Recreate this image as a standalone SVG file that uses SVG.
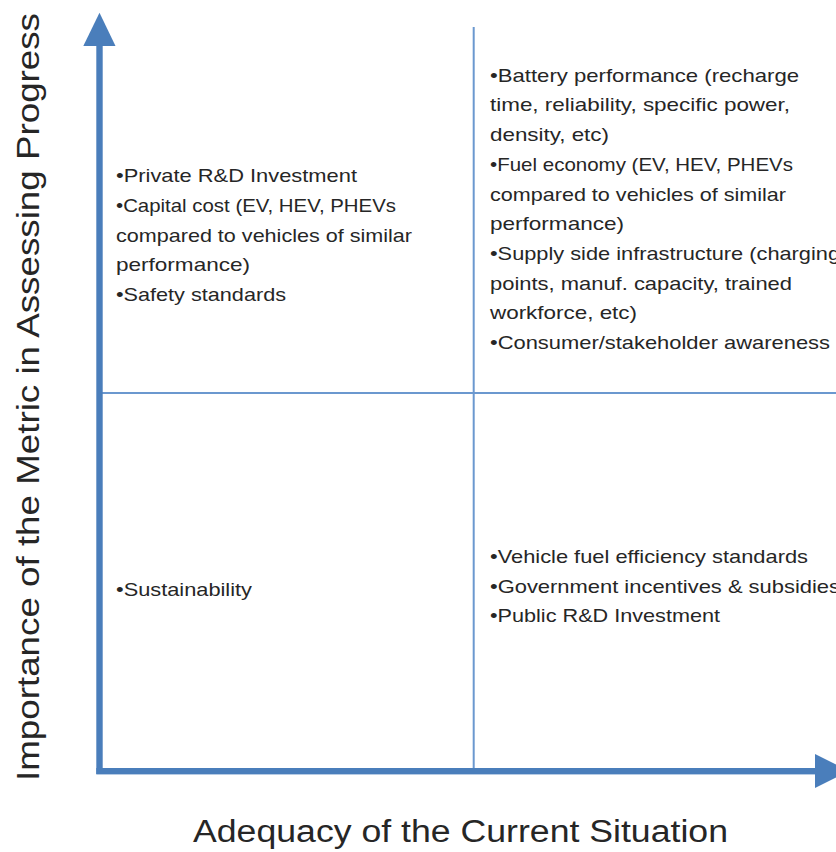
<svg xmlns="http://www.w3.org/2000/svg" width="836" height="852" viewBox="0 0 836 852">
  <style>
    .axis { fill: #4a7ebb; }
    .grid { stroke: #6b98cf; stroke-width: 2; fill: none; }
    .t { font-family: "Liberation Sans", Arial, sans-serif; font-size: 18.6px; fill: #262626; }
    .lbl { font-family: "Liberation Sans", Arial, sans-serif; font-size: 31px; fill: #262626; }
  </style>
  <rect width="836" height="852" fill="#ffffff"/>
  <g id="connectors">
    <line class="grid" x1="473.7" y1="27" x2="473.7" y2="771"/>
    <line class="grid" x1="100" y1="393" x2="836" y2="393"/>
    <rect class="axis" x="96.3" y="44" width="6.4" height="730"/>
    <polygon class="axis" points="99.5,12.7 83.3,46 115.5,46"/>
    <rect class="axis" x="96.3" y="768" width="720" height="6.4"/>
    <polygon class="axis" points="815,754 815,788 849,771"/>
  </g>
  <g id="y-axis-label">
    <text class="lbl" transform="translate(39,781) rotate(-90)" textLength="768" lengthAdjust="spacingAndGlyphs">Importance of the Metric in Assessing Progress</text>
  </g>
  <g id="x-axis-label">
    <text class="lbl" x="193" y="842" textLength="535" lengthAdjust="spacingAndGlyphs">Adequacy of the Current Situation</text>
  </g>
  <g id="quadrant-top-left">
    <text class="t" x="116" y="182" textLength="241" lengthAdjust="spacingAndGlyphs">•Private R&amp;D Investment</text>
    <text class="t" x="116" y="211.8" textLength="280" lengthAdjust="spacingAndGlyphs">•Capital cost (EV, HEV, PHEVs</text>
    <text class="t" x="116" y="241.6" textLength="296" lengthAdjust="spacingAndGlyphs">compared to vehicles of similar</text>
    <text class="t" x="116" y="271.4" textLength="134" lengthAdjust="spacingAndGlyphs">performance)</text>
    <text class="t" x="116" y="301" textLength="170" lengthAdjust="spacingAndGlyphs">•Safety standards</text>
  </g>
  <g id="quadrant-top-right">
    <text class="t" x="490" y="81.7" textLength="309" lengthAdjust="spacingAndGlyphs">•Battery performance (recharge</text>
    <text class="t" x="490" y="111.4" textLength="300" lengthAdjust="spacingAndGlyphs">time, reliability, specific power,</text>
    <text class="t" x="490" y="141.1" textLength="119" lengthAdjust="spacingAndGlyphs">density, etc)</text>
    <text class="t" x="490" y="170.8" textLength="303" lengthAdjust="spacingAndGlyphs">•Fuel economy (EV, HEV, PHEVs</text>
    <text class="t" x="490" y="200.5" textLength="296" lengthAdjust="spacingAndGlyphs">compared to vehicles of similar</text>
    <text class="t" x="490" y="230.2" textLength="134" lengthAdjust="spacingAndGlyphs">performance)</text>
    <text class="t" x="490" y="259.9" textLength="350" lengthAdjust="spacingAndGlyphs">•Supply side infrastructure (charging</text>
    <text class="t" x="490" y="289.6" textLength="302" lengthAdjust="spacingAndGlyphs">points, manuf. capacity, trained</text>
    <text class="t" x="490" y="319.3" textLength="147" lengthAdjust="spacingAndGlyphs">workforce, etc)</text>
    <text class="t" x="490" y="348.6" textLength="340" lengthAdjust="spacingAndGlyphs">•Consumer/stakeholder awareness</text>
  </g>
  <g id="quadrant-bottom-left">
    <text class="t" x="116" y="596" textLength="136" lengthAdjust="spacingAndGlyphs">•Sustainability</text>
  </g>
  <g id="quadrant-bottom-right">
    <text class="t" x="490" y="563.3" textLength="318" lengthAdjust="spacingAndGlyphs">•Vehicle fuel efficiency standards</text>
    <text class="t" x="490" y="593" textLength="350" lengthAdjust="spacingAndGlyphs">•Government incentives &amp; subsidies</text>
    <text class="t" x="490" y="622" textLength="230" lengthAdjust="spacingAndGlyphs">•Public R&amp;D Investment</text>
  </g>
</svg>
